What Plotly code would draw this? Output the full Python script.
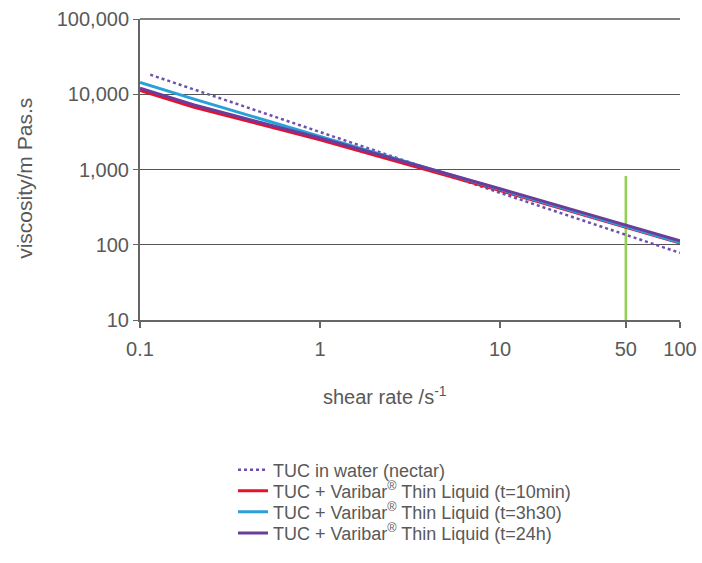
import plotly.graph_objects as go

shear_water = [0.114, 1, 10, 100]
visc_water = [18200, 3140, 490, 78]
shear = [0.1, 0.2, 1, 10, 100]
visc_10min = [11200, 6700, 2480, 525, 105]
visc_3h30 = [14400, 8600, 2750, 545, 107]
visc_24h = [12000, 7200, 2620, 555, 113]
green_x = [50, 50]
green_y = [820, 10]

x_ticks = [0.1, 1, 10, 50, 100]
x_tick_text = ["0.1", "1", "10", "50", "100"]
y_ticks = [10, 100, 1000, 10000, 100000]
y_tick_text = ["10", "100", "1,000", "10,000", "100,000"]

names = ["TUC in water (nectar)",
         "TUC + Varibar<sup>®</sup> Thin Liquid (t=10min)",
         "TUC + Varibar<sup>®</sup> Thin Liquid (t=3h30)",
         "TUC + Varibar<sup>®</sup> Thin Liquid (t=24h)"]

TXT = "#595959"
L, R, T, B = 140, 22, 19, 237
PH = 563 - T - B
PW = 702 - L - R

fig = go.Figure()
fig.add_trace(go.Scatter(x=green_x, y=green_y, mode="lines",
                         line=dict(color="#92d050", width=2.5), showlegend=False, hoverinfo="skip"))
fig.add_trace(go.Scatter(x=shear_water, y=visc_water, mode="lines", name=names[0], legend="legend",
                         line=dict(color="#6f4fae", width=2.5, dash="dot")))
fig.add_trace(go.Scatter(x=shear, y=visc_10min, mode="lines", name=names[1], legend="legend2",
                         line=dict(color="#e8112d", width=3)))
fig.add_trace(go.Scatter(x=shear, y=visc_3h30, mode="lines", name=names[2], legend="legend3",
                         line=dict(color="#2aa0d8", width=3)))
fig.add_trace(go.Scatter(x=shear, y=visc_24h, mode="lines", name=names[3], legend="legend4",
                         line=dict(color="#6a3d9a", width=3)))

legend_centers = [479, 500.5, 522, 543.5]
legend_x = (233 - L) / PW


def leg(cy):
    return dict(x=legend_x, y=-(cy - (T + PH)) / PH, xanchor="left", yanchor="middle",
                font=dict(size=18, color=TXT), itemwidth=30, bgcolor="rgba(0,0,0,0)",
                borderwidth=0)


fig.update_layout(
    width=702, height=563,
    margin=dict(l=L, r=R, t=T, b=B),
    paper_bgcolor="white", plot_bgcolor="white",
    font=dict(family="Liberation Sans, Arial, sans-serif", color=TXT, size=20),
    legend=leg(legend_centers[0]),
    legend2=leg(legend_centers[1]),
    legend3=leg(legend_centers[2]),
    legend4=leg(legend_centers[3]),
    xaxis=dict(type="log", range=[-1, 2], tickvals=x_ticks, ticktext=x_tick_text,
               showgrid=False, showline=True, linecolor="#666666", linewidth=2,
               ticks="outside", ticklen=6, tickwidth=2, tickcolor="#666666",
               zeroline=False, automargin=False, tickfont=dict(size=20, color=TXT),
               ticklabelstandoff=4),
    yaxis=dict(type="log", range=[1, 5], tickvals=y_ticks, ticktext=y_tick_text,
               showgrid=True, gridcolor="#555555", gridwidth=1,
               showline=True, linecolor="#666666", linewidth=2,
               ticks="outside", ticklen=5, tickwidth=1, tickcolor="#666666",
               zeroline=False, automargin=False, tickfont=dict(size=20, color=TXT)),
    annotations=[
        dict(text="shear rate /s<sup>-1</sup>", xref="paper", yref="paper",
             x=(321 - L) / PW, y=-(403 - (T + PH)) / PH, xanchor="left", yanchor="middle",
             showarrow=False, font=dict(size=20, color=TXT)),
        dict(text="viscosity/m Pas.s", xref="paper", yref="paper",
             x=(25 - L) / PW, y=((T + PH) - 182) / PH, xanchor="center", yanchor="middle",
             textangle=-90, showarrow=False, font=dict(size=21, color=TXT)),
    ],
)
fig.add_shape(type="line", xref="paper", yref="paper", x0=0, x1=1, y0=1, y1=1,
              line=dict(color="#555555", width=1.5))

fig.write_html("out.html", config={"displayModeBar": False},
               post_script="document.body.style.margin='0';")
